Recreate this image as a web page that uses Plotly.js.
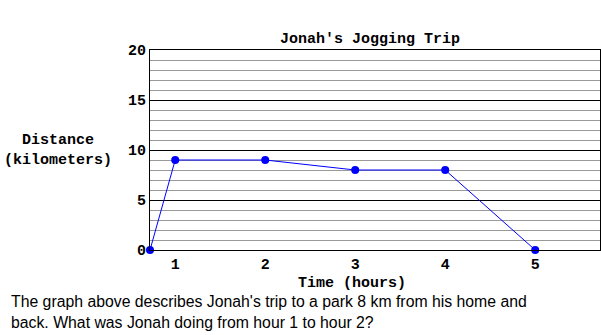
<!DOCTYPE html>
<html><head><meta charset="utf-8">
<script src="https://cdn.plot.ly/plotly-3.0.1.min.js"></script>
<style>html,body{margin:0;padding:0;background:#fff;}#chart{width:601px;height:335px;}</style>
</head><body><div id="chart"></div>
<script>
const hours = [0.72, 1, 2, 3, 4, 5];
const distanceKm = [0, 9, 9, 8, 8, 0];
const xTickVals = [1, 2, 3, 4, 5];
const xTickText = ['1', '2', '3', '4', '5'];
const yTickVals = [0, 5, 10, 15, 20];

const mono = {family: 'Liberation Mono, Courier New, monospace', size: 15, color: '#000', weight: 'bold'};
const sans = {family: 'Liberation Sans, Arial, sans-serif', size: 15.8, color: '#000', weight: 'normal'};

const trace = {
  x: hours, y: distanceKm, type: 'scatter', mode: 'lines+markers',
  line: {color: '#0000ff', width: 1},
  marker: {color: '#0000ff', size: 8},
  cliponaxis: false, hoverinfo: 'none'
};

const layout = {
  width: 601, height: 335,
  margin: {l: 150, r: 1, t: 50, b: 85},
  paper_bgcolor: '#fff', plot_bgcolor: '#fff',
  showlegend: false,
  font: mono,
  xaxis: {
    range: [0.72, 5.72], tickvals: xTickVals, ticktext: xTickText,
    showgrid: false, zeroline: false, showline: true, mirror: true, linecolor: '#000', linewidth: 1,
    ticks: '', ticklen: 0, tickfont: mono, fixedrange: true
  },
  yaxis: {
    range: [0, 20], tickvals: yTickVals,
    showgrid: true, gridcolor: '#000', gridwidth: 1,
    minor: {dtick: 1, showgrid: true, gridcolor: '#999999', gridwidth: 1},
    zeroline: false, showline: true, mirror: true, linecolor: '#000', linewidth: 1,
    ticks: '', tickfont: mono, fixedrange: true
  },
  annotations: [
    {text: "Jonah's Jogging Trip", xref: 'paper', yref: 'paper', x: 0.489, y: 1.05, xanchor: 'center', yanchor: 'middle', showarrow: false, font: mono},
    {text: 'Time (hours)', xref: 'paper', yref: 'paper', x: 0.448, y: -0.165, xanchor: 'center', yanchor: 'middle', showarrow: false, font: mono},
    {text: 'Distance<br>(kilometers)', xref: 'paper', yref: 'paper', x: -0.204, y: 0.5, xanchor: 'center', yanchor: 'middle', showarrow: false, font: mono, align: 'center'},
    {text: "The graph above describes Jonah's trip to a park 8 km from his home and<br>back. What was Jonah doing from hour 1 to hour 2?", xref: 'paper', yref: 'paper', x: -0.313, y: -0.3075, xanchor: 'left', yanchor: 'middle', showarrow: false, align: 'left', font: sans}
  ]
};

Plotly.newPlot('chart', [trace], layout, {displayModeBar: false, staticPlot: true});
</script></body></html>
